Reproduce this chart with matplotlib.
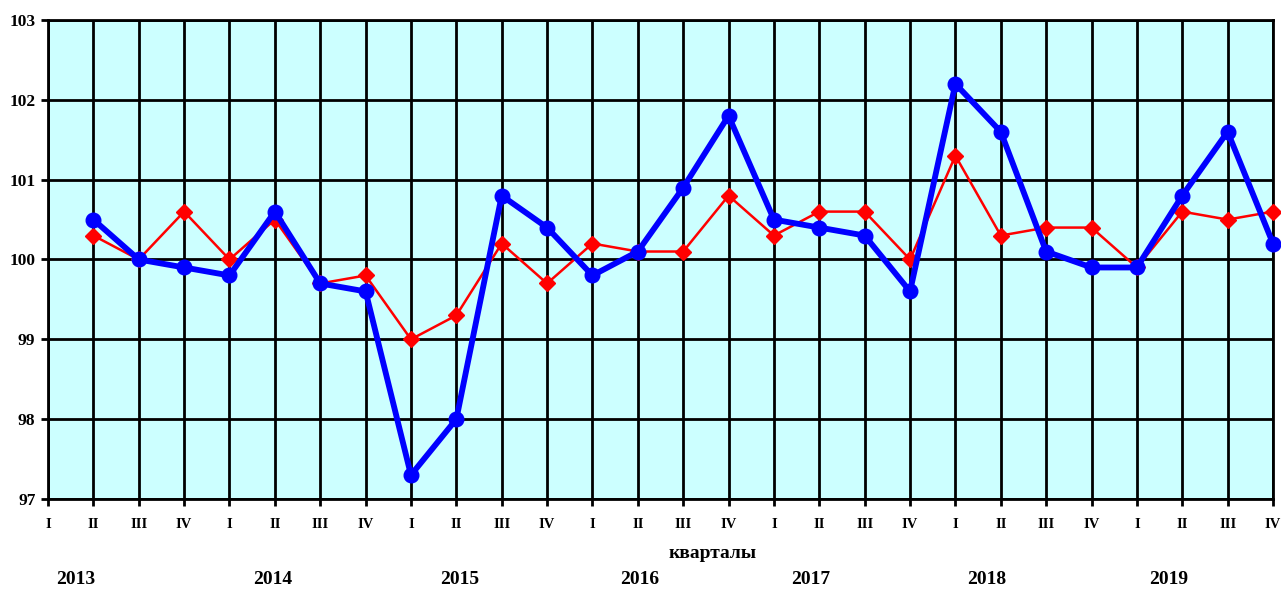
import matplotlib
matplotlib.use('Agg')
import matplotlib.pyplot as plt
from matplotlib.transforms import blended_transform_factory

BG = '#CCFFFF'
BLUE = '#0000FF'
RED = '#FF0000'
FONT = ['Liberation Serif', 'DejaVu Serif']

# quarters 2013 I .. 2019 IV
quarter_labels = ['I', 'II', 'III', 'IV'] * 7
years = ['2013', '2014', '2015', '2016', '2017', '2018', '2019']

# series start at 2013 II
blue_vals = [100.5, 100.0, 99.9, 99.8, 100.6, 99.7, 99.6, 97.3, 98.0, 100.8,
             100.4, 99.8, 100.1, 100.9, 101.8, 100.5, 100.4, 100.3, 99.6, 102.2,
             101.6, 100.1, 99.9, 99.9, 100.8, 101.6, 100.2]
red_vals = [100.3, 100.0, 100.6, 100.0, 100.5, 99.7, 99.8, 99.0, 99.3, 100.2,
            99.7, 100.2, 100.1, 100.1, 100.8, 100.3, 100.6, 100.6, 100.0, 101.3,
            100.3, 100.4, 100.4, 99.9, 100.6, 100.5, 100.6]

# layout only: where the year captions sit (in quarter units)
year_x = [0.62, 4.96, 9.08, 13.05, 16.8, 20.7, 24.7]


def main():
    fig = plt.figure(figsize=(12.81, 5.90), dpi=100, facecolor='white')
    ax = fig.add_axes([48 / 1281, 91 / 590, 1225 / 1281, 479 / 590])
    ax.set_facecolor(BG)

    xs = list(range(len(quarter_labels)))
    ax.set_xlim(0, len(quarter_labels) - 1)
    ax.set_ylim(97, 103)
    ax.set_xticks(xs)
    ax.set_xticklabels(quarter_labels, fontsize=10.5, fontweight='bold',
                       family=FONT)
    ax.set_yticks(range(97, 104))
    ax.set_yticklabels([str(v) for v in range(97, 104)], fontsize=12.5,
                       fontweight='bold', family=FONT)
    ax.tick_params(axis='x', direction='out', length=5, width=2, pad=9)
    ax.tick_params(axis='y', direction='out', length=5, width=2, pad=4)
    ax.grid(True, color='black', linewidth=2.0, zorder=1)
    ax.set_axisbelow(True)
    for s in ax.spines.values():
        s.set_linewidth(2.0)
        s.set_color('black')

    ax.plot(xs[1:], red_vals, color=RED, linewidth=1.8, marker='D',
            markersize=8.5, zorder=3, clip_on=False)
    ax.plot(xs[1:], blue_vals, color=BLUE, linewidth=4.2, marker='o',
            markersize=10.5, zorder=4, clip_on=False)

    trans = blended_transform_factory(ax.transData, fig.transFigure)
    for x, yr in zip(year_x, years):
        ax.text(x, 1 - 579 / 590, yr, transform=trans, ha='center',
                va='center', fontsize=14, fontweight='bold', family=FONT)
    fig.text(712.5 / 1281, 1 - 553 / 590, 'кварталы', ha='center',
             va='center', fontsize=14, fontweight='bold', family=FONT)

    fig.savefig('out.png', dpi=100, facecolor='white')


if __name__ == '__main__':
    main()
